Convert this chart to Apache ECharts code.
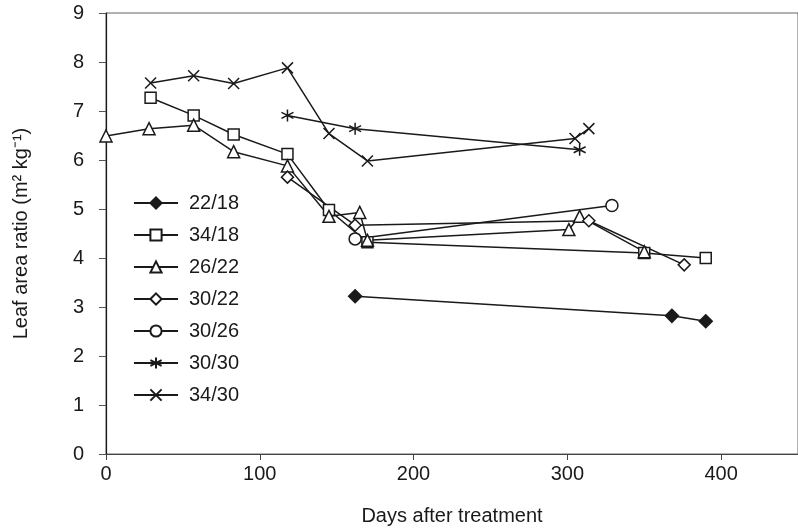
<!DOCTYPE html>
<html>
<head>
<meta charset="utf-8">
<script src="https://cdn.jsdelivr.net/npm/echarts@6/dist/echarts.min.js"></script>
<style>
  html, body { margin: 0; padding: 0; background: #fff; }
  #main { width: 798px; height: 531px; }
</style>
</head>
<body>
<div id="main"></div>
<script>
// series names (temperature regimes)
var names = ["22/18", "34/18", "26/22", "30/22", "30/26", "30/30", "34/30"];

// days after treatment / leaf area ratio, per series
var days2218 = [162, 368, 390];
var lar2218 = [3.22, 2.82, 2.71];

var days3418 = [29, 57, 83, 118, 145, 170, 350, 390];
var lar3418 = [7.27, 6.91, 6.52, 6.12, 4.98, 4.32, 4.10, 4.00];

var days2622 = [0, 28, 57, 83, 118, 145, 165, 170, 301, 308, 350];
var lar2622 = [6.49, 6.64, 6.71, 6.17, 5.88, 4.85, 4.93, 4.36, 4.58, 4.85, 4.13];

var days3022 = [118, 162, 314, 376];
var lar3022 = [5.65, 4.67, 4.76, 3.86];

var days3026 = [162, 329];
var lar3026 = [4.39, 5.07];

var days3030 = [118, 162, 308];
var lar3030 = [6.91, 6.64, 6.21];

var days3430 = [29, 57, 83, 118, 145, 170, 305, 314];
var lar3430 = [7.57, 7.72, 7.56, 7.88, 6.54, 5.98, 6.44, 6.64];

// axis ticks
var xTicks = [0, 100, 200, 300, 400];
var yTicks = [0, 1, 2, 3, 4, 5, 6, 7, 8, 9];

function pairs(xs, ys) {
  var out = [];
  for (var i = 0; i < xs.length; i++) out.push([xs[i], ys[i]]);
  return out;
}

var crossPath = "path://M0,0L10,10M10,0L0,10";
var starPath = "path://M5,0L5,10M0.7,2.5L9.3,7.5M9.3,2.5L0.7,7.5";

var font = "Liberation Sans, Arial, Helvetica, sans-serif";
var ink = "#1a1a1a";

function mkSeries(name, data, symbol, size, fill) {
  return {
    name: name,
    type: "line",
    data: data,
    symbol: symbol,
    symbolSize: size,
    showSymbol: true,
    lineStyle: { color: ink, width: 1.5 },
    itemStyle: { color: fill, borderColor: ink, borderWidth: 1.5 },
    emphasis: { disabled: true },
    z: 3
  };
}

var myChart = echarts.init(document.getElementById("main"));

var option = {
  animation: false,
  backgroundColor: "#fff",
  textStyle: { fontFamily: font },
  grid: {
    left: 106,
    top: 13,
    width: 699,
    height: 443,
    show: true,
    borderColor: "#666",
    borderWidth: 1
  },
  legend: {
    orient: "vertical",
    left: 133,
    top: 193,
    padding: 0,
    itemWidth: 44,
    itemHeight: 14,
    itemGap: 12,
    data: names,
    textStyle: {
      fontFamily: font,
      fontSize: 20,
      color: ink,
      padding: [0, 0, 0, 6]
    }
  },
  xAxis: {
    type: "value",
    min: 0,
    max: 450,
    interval: 100,
    name: "Days after treatment",
    nameLocation: "middle",
    nameGap: 52,
    nameTextStyle: { fontFamily: font, fontSize: 20, color: ink },
    axisLine: { show: true, lineStyle: { color: "#444", width: 1 } },
    axisTick: { show: true, length: 6, lineStyle: { color: "#444" } },
    axisLabel: {
      fontFamily: font,
      fontSize: 20,
      color: ink,
      margin: 10,
      showMaxLabel: false,
      formatter: function (v) {
        return xTicks.indexOf(v) >= 0 ? String(v) : "";
      }
    },
    splitLine: { show: false }
  },
  yAxis: {
    type: "value",
    min: 0,
    max: 9,
    interval: 1,
    name: "Leaf area ratio (m\u00B2 kg\u207B\u00B9)",
    nameLocation: "middle",
    nameGap: 75,
    nameTextStyle: { fontFamily: font, fontSize: 20, color: ink },
    axisLine: { show: true, lineStyle: { color: ink, width: 1.2 } },
    axisTick: { show: true, length: 7, lineStyle: { color: "#555" } },
    axisLabel: {
      fontFamily: font,
      fontSize: 20,
      color: ink,
      margin: 22,
      formatter: function (v) {
        return yTicks.indexOf(v) >= 0 ? String(v) : "";
      }
    },
    splitLine: { show: false }
  },
  series: [
    mkSeries(names[0], pairs(days2218, lar2218), "diamond", 13, ink),
    mkSeries(names[1], pairs(days3418, lar3418), "rect", 11, "#fff"),
    mkSeries(names[2], pairs(days2622, lar2622), "triangle", 12, "#fff"),
    mkSeries(names[3], pairs(days3022, lar3022), "diamond", 12, "#fff"),
    mkSeries(names[4], pairs(days3026, lar3026), "circle", 12, "#fff"),
    mkSeries(names[5], pairs(days3030, lar3030), starPath, 12, "#fff"),
    mkSeries(names[6], pairs(days3430, lar3430), crossPath, 11, "#fff")
  ]
};

myChart.setOption(option, true);
</script>
</body>
</html>
